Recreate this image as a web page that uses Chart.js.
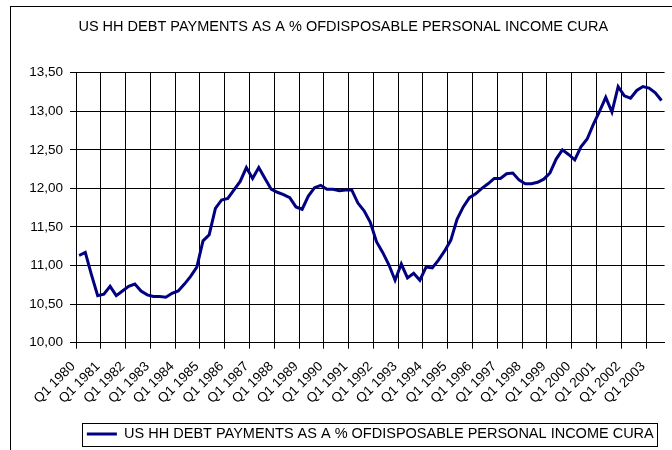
<!DOCTYPE html>
<html>
<head>
<meta charset="utf-8">
<script src="https://cdn.jsdelivr.net/npm/chart.js@4.4.0/dist/chart.umd.min.js"></script>
<style>
  html, body { margin: 0; padding: 0; background: #fff; overflow: hidden; }
  #frame { position: absolute; left: 10px; top: 6px; width: 700px; height: 470px;
           border-left: 1px solid #000; border-top: 1px solid #000; }
  #chart { position: absolute; left: 0; top: 0; }
</style>
</head>
<body>
<div id="frame"><canvas id="chart" width="672" height="450"></canvas></div>
<script>
// series name (used for title and legend)
const seriesName = 'US HH DEBT PAYMENTS AS A % OFDISPOSABLE PERSONAL INCOME CURA';

// categories
const years = [1980, 1981, 1982, 1983, 1984, 1985, 1986, 1987, 1988, 1989, 1990, 1991,
               1992, 1993, 1994, 1995, 1996, 1997, 1998, 1999, 2000, 2001, 2002, 2003];
const quarterNames = ['Q1', 'Q2', 'Q3', 'Q4'];

// debt payments as % of disposable income, Q1 1980 .. Q3 2003
const debtRatio = [
  11.13, 11.17, 10.88, 10.61,  10.63, 10.73, 10.61, 10.67,  10.73, 10.76, 10.67, 10.62,
  10.60, 10.60, 10.59, 10.64,  10.67, 10.76, 10.86, 10.98,  11.32, 11.40, 11.74, 11.85,
  11.87, 11.98, 12.09, 12.27,  12.13, 12.27, 12.13, 11.99,  11.95, 11.92, 11.88, 11.76,
  11.73, 11.90, 12.01, 12.04,  11.99, 11.99, 11.97, 11.98,  11.98, 11.81, 11.71, 11.56,
  11.31, 11.17, 11.01, 10.81,  11.02, 10.84, 10.90, 10.81,  10.98, 10.97, 11.07, 11.19,
  11.33, 11.60, 11.76, 11.88,  11.93, 12.00, 12.06, 12.13,  12.13, 12.19, 12.20, 12.11,
  12.06, 12.06, 12.08, 12.12,  12.20, 12.38, 12.50, 12.44,  12.37, 12.54, 12.64, 12.83,
  13.00, 13.18, 12.99, 13.32,  13.20, 13.17, 13.27, 13.32,  13.30, 13.24, 13.14
];

// y axis range / ticks
const yMin = 10, yMax = 13.5, yStep = 0.5;

const quarters = [];
years.forEach(y => quarterNames.forEach(q => quarters.push(q + ' ' + y)));
quarters.length = debtRatio.length;

const FONT = 'Liberation Sans, Arial, sans-serif';

// draws the thin box round the legend, as excel does
const legendBox = {
  id: 'legendBox',
  afterDraw(chart) {
    const hb = chart.legend && chart.legend.legendHitBoxes && chart.legend.legendHitBoxes[0];
    if (!hb) return;
    const ctx = chart.ctx;
    ctx.save();
    ctx.strokeStyle = '#000';
    ctx.lineWidth = 1;
    ctx.strokeRect(Math.round(hb.left - 5) + .5, Math.round(hb.top - 4) + .5,
                   Math.round(hb.width + 8), Math.round(hb.height + 8));
    ctx.restore();
  }
};

new Chart(document.getElementById('chart'), {
  type: 'line',
  data: {
    labels: quarters,
    datasets: [{
      label: seriesName,
      data: debtRatio,
      borderColor: '#000080',
      backgroundColor: '#000080',
      borderWidth: 3,
      pointRadius: 0,
      tension: 0,
      fill: false
    }]
  },
  options: {
    responsive: false,
    animation: false,
    layout: { padding: { left: 0, right: 7.5, top: 0, bottom: 5.8 } },
    plugins: {
      title: {
        display: true,
        text: seriesName,
        color: '#000',
        font: { family: FONT, size: 14.5, weight: 'normal' },
        padding: { top: 11.6, bottom: 36.7 }
      },
      legend: {
        position: 'bottom',
        fullSize: false,
        labels: {
          color: '#000',
          font: { family: FONT, size: 14.5 },
          usePointStyle: true,
          pointStyle: 'line',
          pointStyleWidth: 30,
          padding: 10
        }
      },
      tooltip: { enabled: false }
    },
    scales: {
      x: {
        type: 'category',
        offset: true,
        grid: {
          offset: true,
          color: ctx => ctx.index % 4 === 0 ? '#000' : 'rgba(0,0,0,0)',
          lineWidth: 1,
          tickLength: 6
        },
        border: { display: true, color: '#000', width: 1 },
        ticks: {
          autoSkip: false,
          minRotation: 45,
          maxRotation: 45,
          padding: 10,
          labelOffset: -6,
          color: '#000',
          font: { family: FONT, size: 13.5 },
          callback(v, i) { return i % 4 === 0 ? this.getLabelForValue(v) : ''; }
        },
        afterFit(scale) { scale.height = 74; }
      },
      y: {
        min: yMin,
        max: yMax,
        grid: { color: '#000', lineWidth: 1, tickLength: 6 },
        border: { display: true, color: '#000', width: 1 },
        ticks: {
          stepSize: yStep,
          padding: 7,
          color: '#000',
          font: { family: FONT, size: 13.5 },
          callback: v => v.toFixed(2).replace('.', ',')
        },
        afterFit(scale) { scale.width = 65; }
      }
    }
  },
  plugins: [legendBox]
});
</script>
</body>
</html>
